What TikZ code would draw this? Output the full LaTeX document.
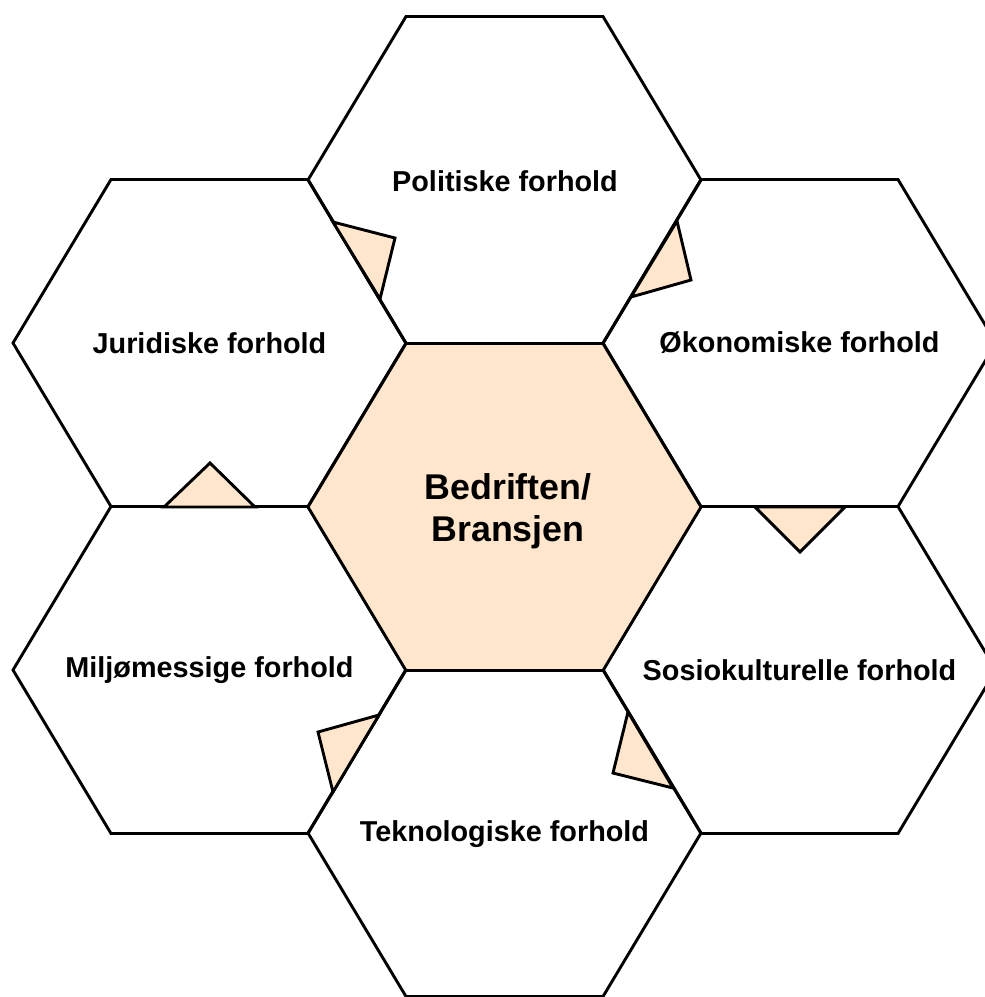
\documentclass[tikz,border=0pt]{standalone}
\usepackage{fontspec}
\setmainfont{Liberation Sans}
\definecolor{peach}{HTML}{FFE6CC}
\tikzset{
  hexline/.style={draw=black, line width=2.9pt, line join=miter},
  hexfill/.style={hexline, fill=peach},
  tri/.style={draw=black, line width=2.9pt, line join=miter, fill=peach},
  lbl/.style={font=\bfseries\fontsize{28.8}{34}\selectfont, align=center, inner sep=0pt},
  biglbl/.style={font=\bfseries\fontsize{35.8}{41.5}\selectfont, align=center, inner sep=0pt}
}
\newcommand\myhex[3]{%
  \path[#1] ({#2-196.5},#3) -- ({#2-98.5},{#3-163.5}) -- ({#2+98.5},{#3-163.5})
    -- ({#2+196.5},#3) -- ({#2+98.5},{#3+163.5}) -- ({#2-98.5},{#3+163.5}) -- cycle;}
\begin{document}
\begin{tikzpicture}[x=1pt,y=-1pt]
\useasboundingbox (0,0) rectangle (985,997);
\clip (0,0) rectangle (985,997);
\fill[white] (0,0) rectangle (985,997);
% outer hexagons
\myhex{hexline}{504.5}{180}
\myhex{hexline}{209.5}{343}
\myhex{hexline}{799.5}{343}
\myhex{hexline}{209.5}{670}
\myhex{hexline}{799.5}{670}
\myhex{hexline}{504.5}{833}
% centre
\myhex{hexfill}{504.5}{507}
% small triangles
\draw[tri] (333,222) -- (395,238) -- (380,299) -- cycle;
\draw[tri] (677,221) -- (691,280) -- (631,297) -- cycle;
\draw[tri] (164,507) -- (210,463) -- (255,507) -- cycle;
\draw[tri] (755,507) -- (800,552) -- (845,507) -- cycle;
\draw[tri] (379,715) -- (318,732) -- (333,792) -- cycle;
\draw[tri] (628,712) -- (613,773) -- (673,788) -- cycle;
% labels
\node[lbl] (pol) at (505,181) {Politiske forhold};
\node[lbl] (jur) at (209.5,343) {Juridiske forhold};
\node[lbl] (oko) at (799.5,343) {Økonomiske forhold};
\node[lbl] (mil) at (209.5,670) {Miljømessige forhold};
\node[lbl] (sos) at (799.5,670) {Sosiokulturelle forhold};
\node[lbl] (tek) at (504.5,834) {Teknologiske forhold};
\node[biglbl] (bed) at (508,511) {Bedriften/\\Bransjen};
\end{tikzpicture}
\end{document}
